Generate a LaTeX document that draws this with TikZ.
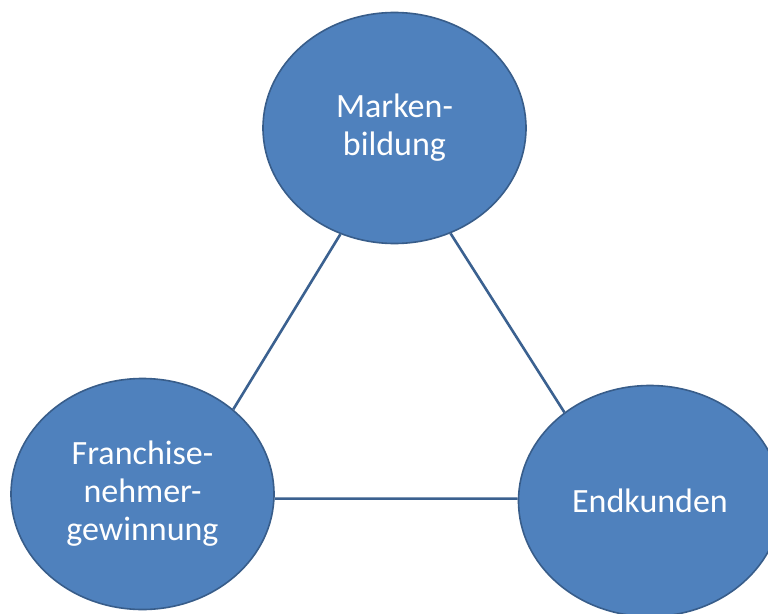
\documentclass[tikz,border=0pt]{standalone}
\usepackage{fontspec}
\setmainfont{Carlito}
\usetikzlibrary{shapes.geometric}
\definecolor{bubblefill}{HTML}{4F81BD}
\definecolor{bubbleline}{HTML}{385D8A}
\definecolor{linkline}{HTML}{3B6190}
\tikzset{
  bubble/.style={ellipse, fill=bubblefill, draw=bubbleline, line width=1.6pt,
    minimum width=263pt, minimum height=231pt, inner sep=0pt, text=white,
    align=center, font=\fontsize{34}{38}\selectfont},
  link/.style={draw=linkline, line width=2.6pt}
}
\begin{document}
\begin{tikzpicture}[x=1pt,y=-1pt]
\path[use as bounding box, clip] (0,0) rectangle (768,613);
\fill[white] (0,0) rectangle (768,613);
\node[bubble] (mb) at (394.5,128) {Marken-\\bildung};
\node[bubble] (fg) at (142.5,494) {Franchise-\\nehmer-\\gewinnung};
\node[bubble] (ek) at (650,501) {Endkunden};
\draw[link] (mb.243.7) -- (fg.43.5);
\draw[link] (mb.298.9) -- (ek.134.2);
\draw[link] (fg.-2.2) -- (ek.179);
\end{tikzpicture}
\end{document}
